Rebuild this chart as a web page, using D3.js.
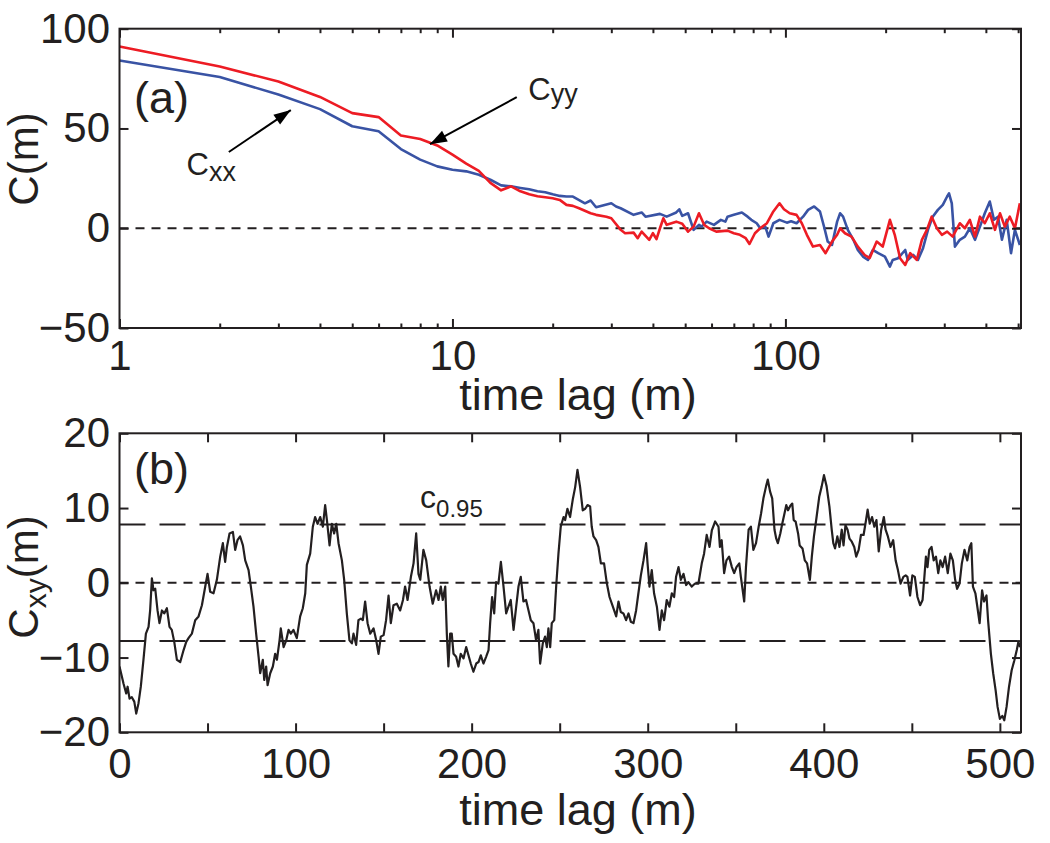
<!DOCTYPE html>
<html><head><meta charset="utf-8">
<script src="https://cdn.jsdelivr.net/npm/d3@7"></script>
<style>
body{margin:0;background:#fff;}
svg text{font-family:"Liberation Sans",Arial,Helvetica,sans-serif;fill:#231f20;}
</style></head><body>
<svg id="chart" width="1050" height="843"></svg>
<script>
// ---------- DATA ----------
// Panel (a): autocorrelation C(m) vs time lag (log axis)
const cxxLag = [1,2,3,4,5,6,7,8,9,10,11,12,13,14,15,16,17,18,19,20,21,22,23,25,26,27,30,31,32,35,37,38,42,44,47,48,49,51,53,55,56,58,61,64,66,67,70,74,77,79,82,84,87,89,92,96,101,104,108,113,117,122,127,131,134,138,143,146,149,154,160,165,171,177,183,190,199,206,210,218,229,233,242,250,259,268,277,287,297,306,310,316,323,334,346,358,371,384,397,411,423,435,447,462,476,489,506];
const cxx    = [84.1,75.8,67.0,59.7,51.1,48.6,39.7,34.4,31.0,29.3,28.5,26.8,24.3,21.5,21.0,20.2,19.5,18.5,18.0,17.0,16.2,15.9,15.9,12.5,13.9,10.5,12.5,10.9,10.0,6.7,7.9,5.8,7.2,5.8,7.9,9.5,6.2,7.5,-0.8,1.7,0.8,3.3,1.7,4.2,3.3,5.8,6.7,7.9,5.8,4.2,2.5,0,0.8,-4.2,2.5,4.2,2.8,3.5,2.5,5.8,9.2,10.9,8.4,0,-6.7,-8.4,3.3,7.5,5.8,-0.8,-5.8,-10.9,-14.2,-15.9,-10.9,-12.5,-14.2,-19.2,-15.9,-15.0,-10.9,-15.9,-13.4,-15.9,-10.0,-0.8,5.8,9.2,11.7,15.9,17.5,12.5,-9.2,-5.8,-4.2,0,-5.8,0.8,7.5,13.4,4.2,5.8,-5.8,4.2,-12.5,-0.8,-8.4];
const cyyLag = [1,2,3,4,5,6,7,8,9,10,11,12,13,14,15,16,17,18,19,20,21,22,23,24,26,27,29,30,32,33,35,36,37,39,40,41,42,43,44,47,49,51,53,55,57,59,62,67,70,73,76,78,81,84,88,92,96,99,103,108,112,116,121,127,132,138,143,146,151,158,165,173,179,188,196,206,213,221,229,237,248,257,266,275,285,295,306,318,334,346,358,371,384,397,411,426,441,456,472,489,506];
const cyy    = [91.1,81.1,73.5,65.8,57.7,55.7,46.5,44.7,41.5,36.9,32.4,28.7,22.7,19.0,21.0,18.5,17.0,16.0,15.5,15.0,14.2,11.7,11.2,10.0,7.5,6.7,5.8,5.0,-0.8,-2.5,-2.2,-5.0,-1.7,-5.8,-2.5,-5.5,0,5.0,1.7,3.3,2.2,-1.7,0.8,7.5,1.7,0,-1.7,-1.2,-2.5,-3.3,-5.0,-7.9,-2.5,0,2.5,8.4,12.5,9.5,7.5,6.7,2.5,-3.3,-9.2,-8.4,-12.5,-6.7,-3.3,0,-2.5,-4.2,-9.2,-13.4,-15.0,-6.7,-9.2,4.2,-3.3,-15.0,-18.4,-12.5,-15.9,-5.8,-0.8,5.8,0,-3.3,-1.7,-4.2,2.5,0,4.2,-4.2,5.8,2.5,7.5,-0.8,7.5,0.8,5.8,0,12.5];
const topYTicks = [-50,0,50,100];
const topXMajor = [1,10,100];
const topXMinor = [2,3,4,5,6,7,8,9,20,30,40,50,60,70,80,90,200,300,400,500];

// Panel (b): cross-correlation Cxy(m) vs time lag (linear axis)
const cxyLag = [0,2.3,3.8,4.6,5.7,7.0,8.4,9.5,10.8,12.1,13.6,15.0,16.5,17.4,18.4,19.3,20.3,21.6,22.7,24.1,25.4,26.9,28.4,29.7,31.1,32.6,34.5,36.4,37.9,39.2,41.1,43.0,44.9,46.8,48.7,50.0,51.5,53.4,55.3,57.2,58.7,60.0,61.0,62.5,64.4,65.7,67.0,68.5,70.1,71.4,73.3,74.6,76.1,77.6,79.0,79.9,81.4,82.2,83.3,84.1,85.6,87.1,88.4,89.4,90.9,91.6,93.2,94.7,96.0,97.3,98.8,100.7,102.6,104.1,105.5,106.4,108.3,109.8,111.1,112.5,114.0,115.5,116.8,117.8,119.3,120.6,121.9,123.1,124.4,126.3,127.6,129.1,130.6,132.0,132.9,134.4,135.7,137.1,138.2,139.5,140.9,142.4,144.3,145.8,147.1,148.4,150.0,151.4,152.8,154.1,155.6,157.5,159.4,161.0,162.2,163.6,165.5,167.0,168.5,169.8,170.8,172.6,174.2,176.1,177.9,179.8,181.2,182.5,183.6,185.0,185.9,186.8,187.8,188.7,189.7,191.2,192.5,193.8,195.4,196.9,198.2,199.5,201.0,202.6,203.9,205.2,206.7,208.2,209.6,210.5,211.6,212.8,213.9,215.2,216.6,218.1,219.6,220.9,222.2,223.8,225.3,226.6,227.9,229.4,230.9,232.3,233.6,235.1,236.6,237.9,238.9,240.4,241.7,242.7,243.6,244.6,245.5,246.9,248.0,249.3,250.6,252.2,253.1,254.4,255.9,257.4,258.8,260.1,261.6,263.1,264.5,265.8,267.3,268.2,269.2,270.7,272.0,273.4,275.2,276.8,278.3,280.2,282.1,283.4,284.7,286.2,287.7,289.1,290.4,291.9,293.4,294.7,296.1,297.6,299.1,299.9,301.0,302.3,303.6,305.2,306.7,308.0,309.3,310.8,312.3,313.7,315.0,316.1,317.5,318.8,320.3,321.8,323.1,325.0,326.9,328.8,330.7,332.0,333.5,335.1,336.4,338.3,340.2,341.0,342.0,343.4,344.7,346.2,347.8,349.1,350.4,352.0,352.9,354.8,355.8,357.3,358.6,360.0,361.5,363.0,364.4,365.7,367.2,368.2,369.5,370.7,372.0,373.0,373.9,375.3,376.4,377.7,378.7,379.7,381.0,382.1,382.9,384.0,385.4,386.3,387.9,389.2,390.5,392.1,393.2,394.4,395.9,397.4,398.8,400.1,401.6,403.2,404.5,405.4,406.4,407.7,408.9,410.2,411.2,412.3,413.5,414.6,415.9,417.3,418.4,419.8,421.1,422.6,424.0,424.9,426.1,427.4,428.7,429.9,431.2,432.6,434.1,435.1,436.4,437.9,439.4,440.8,442.1,443.6,445.2,446.5,447.5,449.0,450.3,451.7,453.2,454.7,456.1,457.0,458.0,458.9,459.9,461.2,462.4,463.7,465.0,466.2,467.5,468.9,470.4,471.9,473.3,474.6,475.7,477.1,478.4,479.9,481.5,482.8,483.8,484.7,486.1,487.2,488.5,489.9,491.0,492.4,493.3,494.9,496.2,497.6,498.7,500.0,501.4,502.5,503.8,505.2,506.7,508.2,509.6,510.5,511.5];
const cxy    = [-11.2,-13.5,-14.8,-13.9,-15.5,-15.3,-15.9,-17.5,-16.1,-13.9,-10.3,-6.8,-5.9,-3.7,0.6,-1.0,-0.8,-3.7,-5.4,-3.7,-4.1,-3.4,-5.9,-6.3,-7.9,-10.3,-10.6,-9.0,-7.9,-7.4,-6.8,-5.0,-4.5,-3.0,-0.5,1.2,-1.2,-1.4,0.4,3.5,5.3,2.8,4.8,6.6,6.8,4.4,5.7,6.2,5.0,3.0,1.7,-0.5,-3.2,-6.8,-9.9,-12.1,-10.3,-13.0,-11.2,-13.7,-12.1,-11.2,-9.5,-10.3,-7.7,-6.1,-8.6,-7.7,-6.3,-6.8,-6.3,-7.4,-4.5,-3.4,-1.4,2.4,3.9,7.5,8.8,7.9,8.8,7.5,10.4,8.4,5.0,7.9,6.6,7.9,5.3,3.0,0.4,-4.1,-7.7,-8.1,-6.8,-8.3,-5.0,-4.8,-5.0,-2.5,-5.4,-6.8,-6.1,-7.7,-9.5,-7.2,-7.0,-5.0,-1.7,-5.4,-3.0,-2.8,-3.7,-2.3,-0.5,-2.3,0.8,2.6,6.6,1.2,0.4,4.4,3.0,-0.5,-2.8,-1.0,-2.3,-0.5,-2.3,-0.5,-6.8,-11.2,-6.8,-6.8,-9.5,-9.9,-11.2,-9.5,-10.1,-8.6,-9.7,-10.8,-11.9,-10.8,-10.6,-9.7,-10.8,-9.9,-9.0,-5.4,-1.9,-4.1,0.1,-0.1,2.8,-0.5,-4.1,-3.2,-2.3,-6.3,-3.2,-0.5,0.8,-2.5,-2.3,-3.7,-5.0,-5.4,-7.7,-6.3,-10.8,-8.1,-7.2,-8.6,-6.1,-8.6,-5.4,-5.0,-0.5,3.9,7.5,8.8,8.4,9.9,8.8,11.1,12.8,15.1,12.8,9.7,9.9,10.4,10.2,7.5,6.2,5.7,4.8,2.6,2.6,-0.1,-1.9,-3.2,-4.5,-2.5,-3.9,-4.1,-5.0,-4.1,-5.2,-5.4,-3.7,-1.4,1.0,3.0,5.3,2.6,-0.5,1.7,-1.4,-3.2,-6.3,-3.7,-5.0,-2.3,-3.2,-1.4,-1.9,0.8,2.1,0.4,1.2,-0.3,0.1,-0.5,-0.1,-0.1,2.6,3.9,6.4,4.8,7.0,8.2,7.5,4.8,5.7,1.3,3.0,3.5,2.1,1.3,2.1,2.6,0.8,-2.5,2.1,7.1,7.5,4.4,5.3,7.5,9.3,11.3,12.9,13.8,12.2,11.3,7.1,5.9,5.3,6.6,7.9,9.3,10.4,9.7,10.3,10.6,8.4,8.2,6.6,5.0,4.6,3.0,2.6,0.4,3.5,6.2,8.8,11.5,12.9,14.4,12.9,10.2,7.1,5.3,4.6,6.2,4.8,7.1,5.0,7.7,7.1,5.9,5.5,4.8,3.5,4.4,6.4,6.4,8.4,9.8,7.9,8.8,7.5,8.4,4.2,7.1,8.8,7.1,6.2,4.8,5.7,3.0,1.7,-0.1,0.8,1.0,0.8,-1.7,1.0,0.8,-1.9,-3.0,-2.3,0.4,3.5,2.1,4.4,4.8,3.0,3.5,1.3,3.0,2.1,3.5,1.3,3.9,3.0,0.4,-0.8,-0.1,2.6,4.4,3.0,4.8,5.3,-0.5,-1.4,-3.2,-5.4,-1.0,-2.5,-1.7,-5.0,-9.5,-12.1,-14.4,-16.6,-18.2,-17.8,-18.4,-16.6,-13.9,-11.7,-10.4,-9.0,-7.9,-8.6];
const c95 = 7.8;                       // 95% confidence level
const botYTicks = [-20,-10,0,10,20];
const botXLabels = [0,100,200,300,400,500];
const botXTicks = [0,50,100,150,200,250,300,350,400,450,500];

// ---------- LAYOUT ----------
const INK = "#231f20", RED = "#ed1c24", BLUE = "#3953a4";
const FS_TICK = 42, FS_LAB = 45, FS_YLAB = 42;
const svg = d3.select("#chart");
const L = 119.5, R = 1021;
const A = {top: 28.7, bottom: 328};
const B = {top: 433.3, bottom: 732.3};

const xA = d3.scaleLog().domain([1, 510]).range([L, R]);
const yA = d3.scaleLinear().domain([-50, 100]).range([A.bottom, A.top]);
const xB = d3.scaleLinear().domain([0, 512]).range([L, R]);
const yB = d3.scaleLinear().domain([-20, 20]).range([B.bottom, B.top]);

const fmt = d => d < 0 ? "\u2212" + Math.abs(d) : String(d);

function styleAxis(g, showText) {
  g.select(".domain").remove();
  g.selectAll("line").attr("stroke", INK).attr("stroke-width", 2);
  g.selectAll("text").attr("font-size", FS_TICK)
   .attr("font-family", '"Liberation Sans",Arial,sans-serif').attr("fill", INK);
  if (!showText) g.selectAll("text").remove();
}

// clip paths
const defs = svg.append("defs");
defs.append("clipPath").attr("id", "clipA").append("rect")
  .attr("x", L).attr("y", A.top).attr("width", R - L).attr("height", A.bottom - A.top);
defs.append("clipPath").attr("id", "clipB").append("rect")
  .attr("x", L).attr("y", B.top).attr("width", R - L).attr("height", B.bottom - B.top);

// ===== Panel (a) =====
const gA = svg.append("g");
gA.append("line").attr("x1", L).attr("x2", R).attr("y1", yA(0)).attr("y2", yA(0))
  .attr("stroke", INK).attr("stroke-width", 2).attr("stroke-dasharray", "9,7");
const lineA = (lags, vals) => d3.line().x((d, i) => xA(lags[i])).y(d => yA(d))(vals);
gA.append("path").attr("clip-path", "url(#clipA)").attr("d", lineA(cxxLag, cxx))
  .attr("fill", "none").attr("stroke", BLUE).attr("stroke-width", 2.6).attr("stroke-linejoin", "round");
gA.append("path").attr("clip-path", "url(#clipA)").attr("d", lineA(cyyLag, cyy))
  .attr("fill", "none").attr("stroke", RED).attr("stroke-width", 2.6).attr("stroke-linejoin", "round");

gA.append("g").attr("transform", `translate(0,${A.bottom})`)
  .call(d3.axisBottom(xA).tickValues(topXMajor).tickFormat(d3.format("d")).tickSize(-9).tickPadding(12))
  .call(g => styleAxis(g, true));
gA.append("g").attr("transform", `translate(0,${A.bottom})`)
  .call(d3.axisBottom(xA).tickValues(topXMinor).tickFormat("").tickSize(-4.5)).call(g => styleAxis(g, false));
gA.append("g").attr("transform", `translate(0,${A.top})`)
  .call(d3.axisTop(xA).tickValues(topXMajor).tickFormat("").tickSize(-9)).call(g => styleAxis(g, false));
gA.append("g").attr("transform", `translate(0,${A.top})`)
  .call(d3.axisTop(xA).tickValues(topXMinor).tickFormat("").tickSize(-4.5)).call(g => styleAxis(g, false));
gA.append("g").attr("transform", `translate(${L},0)`)
  .call(d3.axisLeft(yA).tickValues(topYTicks).tickFormat(fmt).tickSize(-9).tickPadding(9.5))
  .call(g => styleAxis(g, true));
gA.append("g").attr("transform", `translate(${R},0)`)
  .call(d3.axisRight(yA).tickValues(topYTicks).tickFormat("").tickSize(-9)).call(g => styleAxis(g, false));
gA.append("rect").attr("x", L).attr("y", A.top).attr("width", R - L).attr("height", A.bottom - A.top)
  .attr("fill", "none").attr("stroke", INK).attr("stroke-width", 2);

gA.append("text").attr("x", 578).attr("y", 410).attr("text-anchor", "middle")
  .attr("font-size", FS_LAB).text("time lag (m)");
gA.append("text").attr("transform", `translate(38,159) rotate(-90)`).attr("text-anchor", "middle")
  .attr("font-size", FS_YLAB).text("C(m)");
gA.append("text").attr("x", xA(1.105)).attr("y", yA(57.7)).attr("font-size", FS_LAB).text("(a)");

function arrow(g, x1, y1, x2, y2) {
  g.append("line").attr("x1", x1).attr("y1", y1).attr("x2", x2).attr("y2", y2)
    .attr("stroke", "#000").attr("stroke-width", 2);
  const ang = Math.atan2(y2 - y1, x2 - x1), len = 17, w = 6;
  const bx = x2 - len * Math.cos(ang), by = y2 - len * Math.sin(ang);
  const px = -Math.sin(ang) * w, py = Math.cos(ang) * w;
  g.append("path").attr("d", `M${x2},${y2}L${bx + px},${by + py}L${bx - px},${by - py}Z`).attr("fill", "#000");
}
arrow(gA, xA(2.13), yA(38.2), xA(3.27), yA(59.2));
arrow(gA, xA(15.6), yA(65.7), xA(8.56), yA(42.1));
function subLabel(g, x, y, main, sub, fsMain, fsSub, dy) {
  const t = g.append("text").attr("x", x).attr("y", y).attr("font-size", fsMain);
  t.append("tspan").text(main);
  t.append("tspan").attr("font-size", fsSub).attr("dy", dy).text(sub);
  return t;
}
subLabel(gA, xA(1.59), yA(26.6), "C", "xx", 31, 27, 6);
subLabel(gA, xA(16.9), yA(64.2), "C", "yy", 31, 27, 3);

// ===== Panel (b) =====
const gB = svg.append("g");
gB.append("line").attr("x1", L).attr("x2", R).attr("y1", yB(0)).attr("y2", yB(0))
  .attr("stroke", INK).attr("stroke-width", 2).attr("stroke-dasharray", "9,7");
[c95, -c95].forEach(v => gB.append("line").attr("x1", L).attr("x2", R).attr("y1", yB(v)).attr("y2", yB(v))
  .attr("stroke", INK).attr("stroke-width", 2).attr("stroke-dasharray", "26,14"));
gB.append("path").attr("clip-path", "url(#clipB)")
  .attr("d", d3.line().x((d, i) => xB(cxyLag[i])).y(d => yB(d))(cxy))
  .attr("fill", "none").attr("stroke", INK).attr("stroke-width", 2.2).attr("stroke-linejoin", "round");

gB.append("g").attr("transform", `translate(0,${B.bottom})`)
  .call(d3.axisBottom(xB).tickValues(botXTicks).tickFormat(d => botXLabels.includes(d) ? d : "").tickSize(-9).tickPadding(16))
  .call(g => styleAxis(g, true));
gB.append("g").attr("transform", `translate(0,${B.top})`)
  .call(d3.axisTop(xB).tickValues(botXTicks).tickFormat("").tickSize(-9)).call(g => styleAxis(g, false));
gB.append("g").attr("transform", `translate(${L},0)`)
  .call(d3.axisLeft(yB).tickValues(botYTicks).tickFormat(fmt).tickSize(-9).tickPadding(9.5))
  .call(g => styleAxis(g, true));
gB.append("g").attr("transform", `translate(${R},0)`)
  .call(d3.axisRight(yB).tickValues(botYTicks).tickFormat("").tickSize(-9)).call(g => styleAxis(g, false));
gB.append("rect").attr("x", L).attr("y", B.top).attr("width", R - L).attr("height", B.bottom - B.top)
  .attr("fill", "none").attr("stroke", INK).attr("stroke-width", 2);

gB.append("text").attr("x", 578).attr("y", 825).attr("text-anchor", "middle")
  .attr("font-size", FS_LAB).text("time lag (m)");
const yl = gB.append("text").attr("transform", `translate(38,577) rotate(-90)`).attr("text-anchor", "middle")
  .attr("font-size", FS_YLAB);
yl.append("tspan").text("C");
yl.append("tspan").attr("font-size", 30).attr("dy", 8).text("xy");
yl.append("tspan").attr("dy", -8).text("(m)");
gB.append("text").attr("x", xB(8.2)).attr("y", yB(13.2)).attr("font-size", FS_LAB).text("(b)");
subLabel(gB, xB(170.7), yB(10.0), "c", "0.95", 32, 24, 9);
</script></body></html>
